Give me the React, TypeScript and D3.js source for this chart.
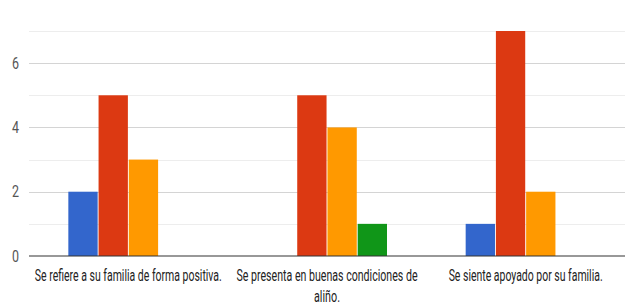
import React, { useEffect, useRef } from "react";
import * as d3 from "d3";

// categories (x axis), each label split into its lines
const categories = [
  "Se refiere a su familia de forma positiva.",
  "Se presenta en buenas condiciones de aliño.",
  "Se siente apoyado por su familia.",
];
const categoryLines = [
  ["Se refiere a su familia de forma positiva."],
  ["Se presenta en buenas condiciones de", "aliño."],
  ["Se siente apoyado por su familia."],
];
const series = ["s1", "s2", "s3", "s4"];
const seriesColors = ["#3366cc", "#dc3912", "#ff9900", "#109618"];
// values[series][category]
const s1Values = [2, 0, 1];
const s2Values = [5, 5, 7];
const s3Values = [3, 4, 2];
const s4Values = [0, 1, 0];
const yTicks = [0, 2, 4, 6];
const yGrid = [0, 1, 2, 3, 4, 5, 6, 7];

const App = () => {
  const ref = useRef<SVGSVGElement>(null);

  useEffect(() => {
    const width = 625,
      height = 304;
    const margin = { top: 31, right: 0, bottom: 48, left: 29 };
    const svg = d3.select(ref.current);
    svg.selectAll("*").remove();

    const allValues = [s1Values, s2Values, s3Values, s4Values];

    const x0 = d3
      .scaleBand()
      .domain(categories)
      .range([margin.left, width - margin.right])
      .paddingInner(0.396)
      .paddingOuter(0.198);

    const x1 = d3
      .scaleBand()
      .domain(series)
      .range([0, x0.bandwidth()])
      .paddingInner(0.03);

    const y = d3
      .scaleLinear()
      .domain([0, 7])
      .range([height - margin.bottom, margin.top]);

    // gridlines
    svg
      .append("g")
      .selectAll("line")
      .data(yGrid.filter((d) => d !== 0))
      .enter()
      .append("line")
      .attr("x1", margin.left)
      .attr("x2", width - margin.right)
      .attr("y1", (d) => Math.round(y(d)) + 0.5)
      .attr("y2", (d) => Math.round(y(d)) + 0.5)
      .attr("stroke", (d) => (d % 2 === 0 ? "#d4d4d4" : "#ededed"))
      .attr("stroke-width", 1);

    // bars
    const groups = svg
      .append("g")
      .selectAll("g")
      .data(categories)
      .enter()
      .append("g")
      .attr("transform", (d) => `translate(${x0(d)},0)`);

    groups
      .selectAll("rect")
      .data((d, ci) =>
        series.map((s, si) => ({ s, si, v: allValues[si][ci] }))
      )
      .enter()
      .filter((d) => d.v > 0)
      .append("rect")
      .attr("x", (d) => x1(d.s)!)
      .attr("width", x1.bandwidth())
      .attr("y", (d) => y(d.v))
      .attr("height", (d) => y(0) - y(d.v))
      .attr("fill", (d) => seriesColors[d.si]);

    // baseline
    svg
      .append("line")
      .attr("x1", margin.left)
      .attr("x2", width - margin.right)
      .attr("y1", y(0))
      .attr("y2", y(0))
      .attr("stroke", "#333333")
      .attr("stroke-width", 1.2);

    // y tick labels
    svg
      .append("g")
      .selectAll("text")
      .data(yTicks)
      .enter()
      .append("text")
      .attr("x", 19)
      .attr("y", (d) => y(d))
      .attr("dy", "0.36em")
      .attr("text-anchor", "end")
      .attr("font-family", "Roboto, sans-serif")
      .attr("font-size", 16)
      .attr("fill", "#555555")
      .attr("textLength", 7)
      .attr("lengthAdjust", "spacingAndGlyphs")
      .text((d) => d);

    // x labels
    const labelWidths = [[187], [181, 26], [154]];
    categories.forEach((c, ci) => {
      const cx = x0(c)! + x0.bandwidth() / 2;
      categoryLines[ci].forEach((line, li) => {
        svg
          .append("text")
          .attr("x", cx)
          .attr("y", 281 + li * 21)
          .attr("text-anchor", "middle")
          .attr("font-family", "Roboto, sans-serif")
          .attr("font-size", 16)
          .attr("fill", "#222222")
          .attr("textLength", labelWidths[ci][li])
          .attr("lengthAdjust", "spacingAndGlyphs")
          .text(line);
      });
    });
  }, []);

  return (
    <div style={{ position: "absolute", left: 0, top: 0, background: "#fff" }}>
      <svg ref={ref} width={625} height={304} />
    </div>
  );
};

export default App;
